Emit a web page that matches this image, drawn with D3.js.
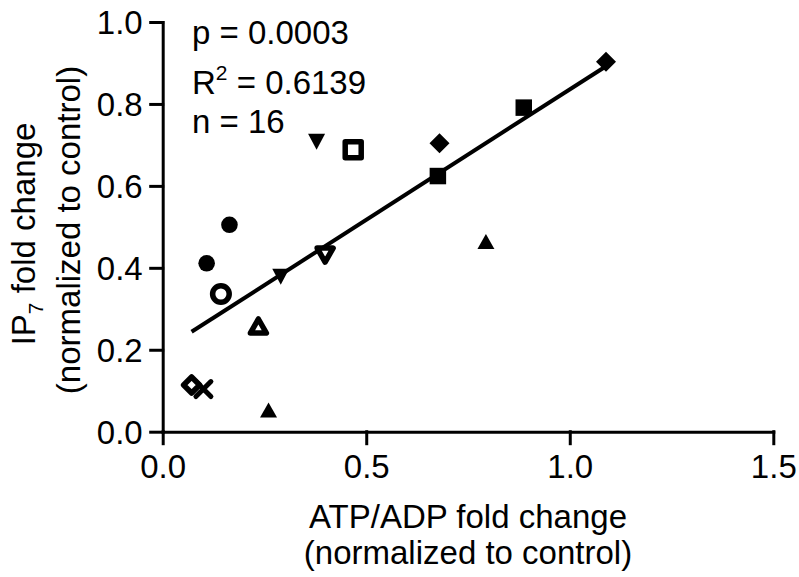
<!DOCTYPE html>
<html>
<head>
<meta charset="utf-8">
<script src="https://cdn.jsdelivr.net/npm/d3@7"></script>
<style>
  html, body { margin: 0; padding: 0; background: #fff; }
  svg { display: block; font-family: "Liberation Sans", Arial, sans-serif; }
</style>
</head>
<body>
<svg id="chart" width="799" height="577"></svg>
<script>
// ---------- data ----------
const xVals = [1.089, 0.887, 0.680, 0.468, 0.378, 0.676, 0.794, 0.399, 0.290, 0.164, 0.108, 0.143, 0.235, 0.100, 0.071, 0.260];
const yVals = [0.903, 0.791, 0.704, 0.688, 0.708, 0.624, 0.464, 0.431, 0.378, 0.505, 0.411, 0.336, 0.258, 0.104, 0.114, 0.053];
const shapes = ["diamond", "square", "diamond", "square", "triDown", "square", "triUp", "triDown", "triDown", "circle", "circle", "circle", "triUp", "x", "diamond", "triUp"];
const filled = [true, true, true, false, true, true, true, false, true, true, true, false, false, true, false, true];
const xTicks = [0, 0.5, 1.0, 1.5];
const yTicks = [0, 0.2, 0.4, 0.6, 0.8, 1.0];
const statLines = ["p = 0.0003", "R|2| = 0.6139", "n = 16"];

// ---------- layout ----------
const svg = d3.select("#chart");
const plotL = 162.7, plotR = 773.3, plotT = 22, plotB = 431.7;
const x = d3.scaleLinear().domain([0, 1.5]).range([plotL, plotR]);
const y = d3.scaleLinear().domain([0, 1]).range([plotB, plotT]);
const FS = 33;

// ---------- regression line ----------
const n = xVals.length;
const mx = d3.mean(xVals), my = d3.mean(yVals);
let sxy = 0, sxx = 0;
for (let i = 0; i < n; i++) { sxy += (xVals[i] - mx) * (yVals[i] - my); sxx += (xVals[i] - mx) ** 2; }
const slope = sxy / sxx, icpt = my - slope * mx;
const x0 = d3.min(xVals), x1 = d3.max(xVals);
svg.append("line")
  .attr("x1", x(x0)).attr("y1", y(icpt + slope * x0))
  .attr("x2", x(x1)).attr("y2", y(icpt + slope * x1))
  .attr("stroke", "#000").attr("stroke-width", 4);

// ---------- markers ----------
function shapePath(shape, open) {
  const p = d3.path();
  if (shape === "square") {
    const s = open ? 16 : 16.5;
    p.rect(-s / 2, -s / 2, s, s);
  } else if (shape === "circle") {
    const r = open ? 8.3 : 8.3;
    p.moveTo(r, 0);
    p.arc(0, 0, r, 0, 2 * Math.PI);
  } else if (shape === "diamond") {
    const d = open ? 16 : 20;
    p.moveTo(0, -d / 2); p.lineTo(d / 2, 0); p.lineTo(0, d / 2); p.lineTo(-d / 2, 0); p.closePath();
  } else if (shape === "triUp") {
    const w = open ? 16 : 17, h = open ? 14 : 15;
    p.moveTo(0, -h / 2); p.lineTo(w / 2, h / 2); p.lineTo(-w / 2, h / 2); p.closePath();
  } else if (shape === "triDown") {
    const w = open ? 16 : 17, h = open ? 14 : 16;
    p.moveTo(0, h / 2); p.lineTo(w / 2, -h / 2); p.lineTo(-w / 2, -h / 2); p.closePath();
  } else if (shape === "x") {
    const s = 7.5;
    p.moveTo(-s, -s); p.lineTo(s, s); p.moveTo(s, -s); p.lineTo(-s, s);
  }
  return p.toString();
}
const pts = d3.range(n).map(i => ({ x: xVals[i], y: yVals[i], shape: shapes[i], filled: filled[i] }));
svg.append("g").selectAll("path").data(pts).join("path")
  .attr("transform", d => `translate(${x(d.x)},${y(d.y)})`)
  .attr("d", d => shapePath(d.shape, !d.filled))
  .attr("fill", d => d.shape === "x" ? "none" : (d.filled ? "#000" : "#fff"))
  .attr("stroke", d => d.filled && d.shape !== "x" ? "none" : "#000")
  .attr("stroke-width", d => d.shape === "x" ? 5 : 5.5)
  .attr("stroke-linejoin", "round")
  .attr("stroke-linecap", "round");

// ---------- axes ----------
const xAxis = svg.append("g").attr("transform", `translate(0,${plotB})`)
  .call(d3.axisBottom(x).tickValues(xTicks).tickFormat(d3.format(".1f")).tickSize(12).tickSizeOuter(0).tickPadding(11));
const yAxis = svg.append("g").attr("transform", `translate(${plotL},0)`)
  .call(d3.axisLeft(y).tickValues(yTicks).tickFormat(d3.format(".1f")).tickSize(12).tickSizeOuter(0).tickPadding(8));
[xAxis, yAxis].forEach(g => {
  g.select(".domain").attr("stroke", "#000").attr("stroke-width", 3).attr("stroke-linecap", "square");
  g.selectAll(".tick line").attr("stroke", "#000").attr("stroke-width", 3).attr("stroke-linecap", "square");
  g.selectAll(".tick text").attr("fill", "#000").attr("font-size", FS)
    .attr("font-family", "Liberation Sans, Arial, sans-serif");
});
yAxis.selectAll(".tick text").attr("dy", "0.36em");

// ---------- stats text ----------
const statY = [44, 94, 133];
statLines.forEach((s, i) => {
  const t = svg.append("text").attr("x", 192).attr("y", statY[i]).attr("font-size", FS).attr("fill", "#000");
  const parts = s.split("|");
  if (parts.length === 1) { t.text(s); }
  else {
    t.append("tspan").text(parts[0]);
    t.append("tspan").attr("font-size", 21).attr("dy", -14).text(parts[1]);
    t.append("tspan").attr("dy", 14).text(parts[2]);
  }
});

// ---------- axis titles ----------
const cx = (plotL + plotR) / 2;
svg.append("text").attr("x", cx).attr("y", 528).attr("text-anchor", "middle")
  .attr("font-size", FS).text("ATP/ADP fold change");
svg.append("text").attr("x", cx).attr("y", 564).attr("text-anchor", "middle")
  .attr("font-size", FS).text("(normalized to control)");

const yl1 = svg.append("text").attr("transform", "translate(35,234) rotate(-90)")
  .attr("text-anchor", "middle").attr("font-size", FS);
yl1.append("tspan").text("IP");
yl1.append("tspan").attr("font-size", 21).attr("dy", 8).text("7");
yl1.append("tspan").attr("dy", -8).text(" fold change");
svg.append("text").attr("transform", "translate(80,230) rotate(-90)")
  .attr("text-anchor", "middle").attr("font-size", FS).text("(normalized to control)");
</script>
</body>
</html>
